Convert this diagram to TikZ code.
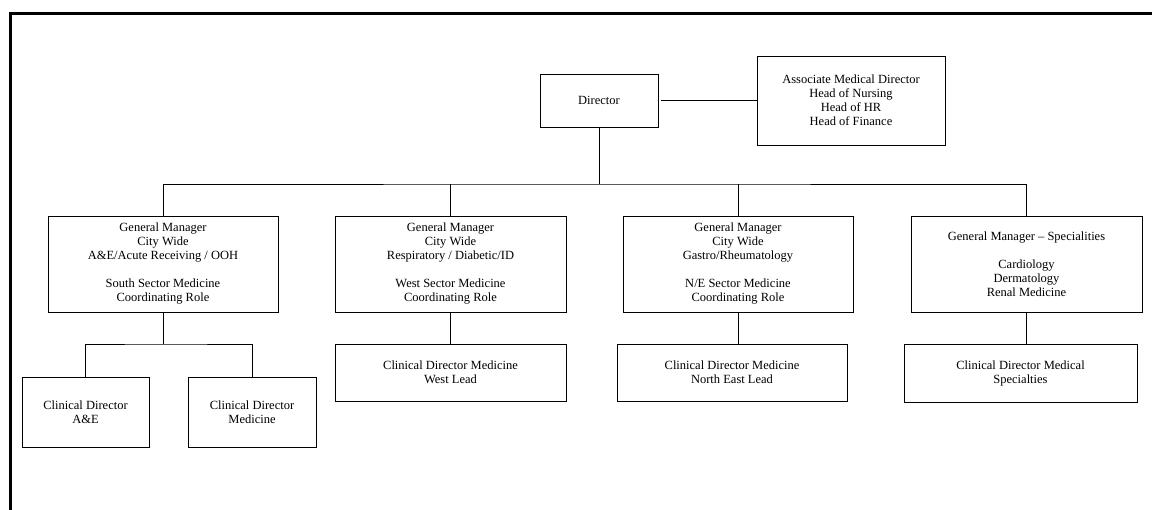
\documentclass[tikz,border=0pt]{standalone}
\usepackage{fontspec}
\setmainfont{Liberation Serif}
\usepackage{tikz}
\usetikzlibrary{positioning}
\tikzstyle{box} = [draw, line width=0.9pt, inner sep=0pt, align=center, font=\fontsize{12.5}{14}\selectfont]
\tikzstyle{line} = [draw, line width=0.9pt]

\begin{document}
\begin{tikzpicture}[x=1pt, y=-1pt]
			\useasboundingbox (0,0) rectangle (1152,510);
			\draw [line width=3pt] (10.5,510) -- (10.5,13.5) -- (1152,13.5);

			\node [box, minimum width=118, minimum height=53] (dir) at (599, 100.5) {Director};
			\node [box, minimum width=188, minimum height=89] (heads) at (851, 100.5) {Associate Medical Director\\Head of Nursing\\Head of HR\\Head of Finance};

			\node [box, minimum width=230, minimum height=96] (gm1) at (163, 264) {General Manager\\City Wide\\A\&E/Acute Receiving / OOH\\[14pt]South Sector Medicine\\Coordinating Role};
			\node [box, minimum width=231, minimum height=96] (gm2) at (450.5, 264) {General Manager\\City Wide\\Respiratory / Diabetic/ID\\[14pt]West Sector Medicine\\Coordinating Role};
			\node [box, minimum width=230, minimum height=96] (gm3) at (738, 264) {General Manager\\City Wide\\Gastro/Rheumatology\\[14pt]N/E Sector Medicine\\Coordinating Role};
			\node [box, minimum width=231, minimum height=96] (gm4) at (1026.5, 264) {General Manager -- Specialities\\[14pt]Cardiology\\Dermatology\\Renal Medicine};

			\node [box, minimum width=127, minimum height=70] (cdae) at (85.5, 412) {Clinical Director\\A\&E};
			\node [box, minimum width=128, minimum height=70] (cdmed) at (252, 412) {Clinical Director\\Medicine};
			\node [box, minimum width=231, minimum height=57] (cdwest) at (450.5, 372.5) {Clinical Director Medicine\\West Lead};
			\node [box, minimum width=230, minimum height=57] (cdne) at (732, 372.5) {Clinical Director Medicine\\North East Lead};
			\node [box, minimum width=233, minimum height=58] (cdspec) at (1020.5, 373) {Clinical Director Medical\\Specialties};

			\coordinate (bus) at (599, 184);
			\coordinate (sub) at (163, 344);

			\path [line, shorten <=3pt] (dir) -- (heads);
			\path [line] (dir) -- (bus);
			\path [line] (gm1.north) |- (bus) -| (gm4.north);
			\path [line] (gm2.north) -- (gm2.north |- bus);
			\path [line] (gm3.north) -- (gm3.north |- bus);

			\path [line] (gm1) -- (sub);
			\path [line] (cdae.north) |- (sub) -| (cdmed.north);
			\path [line] (gm2) -- (cdwest);
			\path [line] (gm3.south) -- (gm3.south |- cdne.north);
			\path [line] (gm4.south) -- (gm4.south |- cdspec.north);
		\end{tikzpicture}
\end{document}
